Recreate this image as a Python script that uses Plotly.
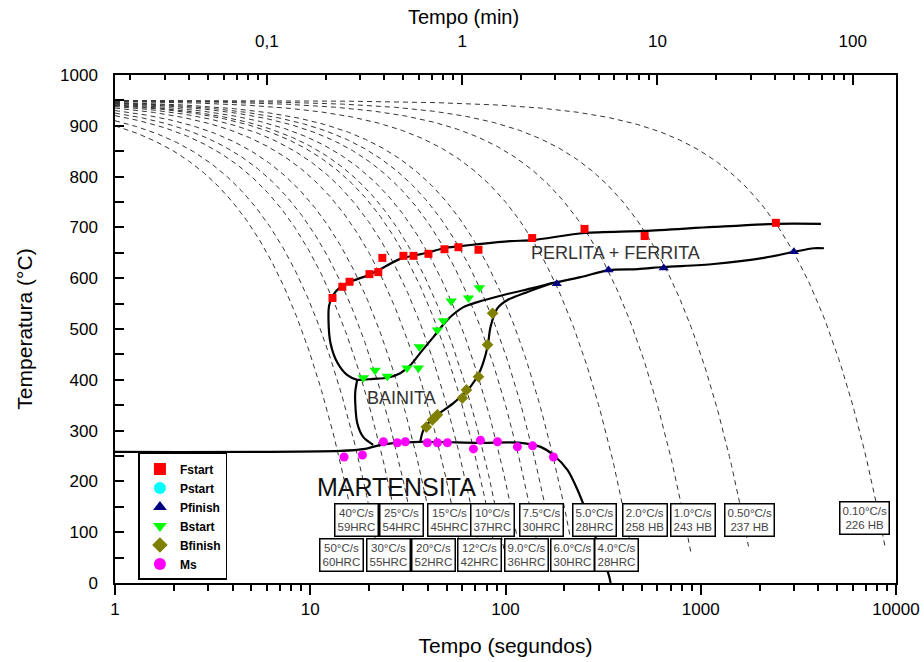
import numpy as np
import plotly.graph_objects as go

# ---------------- data ----------------
# cooling curves (labelled cooling rates, °C/s) starting from the austenitising temperature
cool_rates = [50, 40, 30, 25, 20, 15, 12, 10, 9.0, 7.5, 6.0, 5.0, 4.0, 2.0, 1.0, 0.50, 0.10]
cool_start_T = 950
cool_end_T = [50, 50, 50, 50, 50, 50, 50, 50, 50, 50, 50, 50, 50, 50, 55, 72, 72]

# experimental points (time in s, temperature in °C)
fstart_t = [13.0, 14.6, 15.9, 20.1, 22.3, 23.4, 30.0, 33.8, 40.3, 48.7, 57.4, 72.7, 137, 254, 516, 2425]
fstart_T = [561, 583, 593, 608, 612, 640, 644, 644, 648, 657, 661, 656, 679, 697, 683, 709]
pstart_t = []
pstart_T = []
pfinish_t = [183, 337, 646, 3000]
pfinish_T = [589, 616, 620, 652]
bstart_t = [18.7, 21.5, 24.8, 31.3, 35.8, 36.2, 44.8, 48.1, 52.7, 64.6, 73.5]
bstart_T = [404, 419, 407, 423, 423, 465, 498, 516, 555, 561, 581]
bfinish_t = [39.3, 42.2, 44.8, 60.1, 63.1, 72.7, 80.9, 85.9]
bfinish_T = [307, 321, 331, 364, 380, 406, 469, 531]
ms_t = [14.9, 18.5, 23.7, 27.9, 30.7, 39.8, 44.8, 50.4, 68.5, 74.4, 91.0, 115, 137.6, 176]
ms_T = [248, 252, 278, 276, 278, 276, 276, 276, 264, 281, 278, 268, 270, 248]

# transformation boundaries (solid black lines)
ferr_bain_t = [4125, 2425, 1166, 516, 254, 138, 106, 72.7, 58.8, 48.1, 39.8, 28.9, 22.9, 19.8, 16.0,
               14.3, 13.1, 12.5, 12.4, 12.7, 13.8, 15.5, 17.4, 21.0, 24.8, 28.9, 32.6, 36.6, 42.7,
               50.4, 60.9, 71.8, 97.7, 139, 176, 242, 338, 475, 646, 1166, 2104, 3000, 3798, 4274]
ferr_bain_T = [707, 707, 701, 693, 689, 675, 673, 667, 663, 659, 650, 638, 618, 606, 593,
               583, 567, 547, 518, 472, 433, 409, 400, 402, 404, 413, 429, 453, 484,
               518, 543, 553, 567, 581, 591, 602, 616, 618, 622, 628, 640, 652, 659, 659]
bfin_line_t = [36.6, 38.0, 42.7, 54.1, 66.1, 74.4, 80.9, 83.8, 91.0, 102.4, 129.7, 176]
bfin_line_T = [278, 301, 325, 354, 386, 419, 465, 504, 541, 557, 573, 591]
bain_mart_t = [17.4, 17.0, 17.0, 17.4, 18.7, 21.0]
bain_mart_T = [400, 376, 354, 315, 287, 272]
ms_line_t = [1, 14.3, 19.1, 22.9, 27.3, 36.6, 74.4, 119.4, 151.2, 176, 208, 234, 257, 296, 338, 345.6]
ms_line_T = [258, 260, 264, 272, 276, 278, 276, 276, 268, 252, 222, 183, 144, 79, 16, 0]

# label boxes: (rate text, hardness text)
top_labels = [("40°C/s", "59HRC"), ("25°C/s", "54HRC"), ("15°C/s", "45HRC"), ("10°C/s", "37HRC"),
              ("7.5°C/s", "30HRC"), ("5.0°C/s", "28HRC"), ("2.0°C/s", "258 HB"), ("1.0°C/s", "243 HB"),
              ("0.50°C/s", "237 HB"), ("0.10°C/s", "226 HB")]
bottom_labels = [("50°C/s", "60HRC"), ("30°C/s", "55HRC"), ("20°C/s", "52HRC"), ("12°C/s", "42HRC"),
                 ("9.0°C/s", "36HRC"), ("6.0°C/s", "30HRC"), ("4.0°C/s", "28HRC")]

x_tick_vals = [1, 10, 100, 1000, 10000]
x_tick_text = ["1", "10", "100", "1000", "10000"]
min_tick_vals = [0.1, 1, 10, 100]
min_tick_text = ["0,1", "1", "10", "100"]
y_tick_vals = [0, 100, 200, 300, 400, 500, 600, 700, 800, 900, 1000]

# ---------------- layout helpers (positions) ----------------
top_label_x = [17.2, 29.3, 51.6, 85.8, 153, 286, 516, 910, 1784, 6935]
top_label_y = [124, 124, 124, 124, 124, 124, 124, 124, 124, 128]
bottom_label_x = [14.4, 25.1, 42.7, 73.6, 128, 221, 371]
bottom_label_y = 55

FONT = "Liberation Sans, Arial, Helvetica, sans-serif"

fig = go.Figure()

# cooling curves
for r, tend in zip(cool_rates, cool_end_T):
    t_last = (cool_start_T - tend) / r
    tt = np.logspace(0, np.log10(t_last), 300)
    TT = cool_start_T - r * tt
    fig.add_trace(go.Scatter(x=tt, y=TT, mode="lines", showlegend=False, hoverinfo="skip",
                             line=dict(color="#333333", width=1, dash="5px,4px")))

# boundary lines
for xs, ys in [(ferr_bain_t, ferr_bain_T), (bfin_line_t, bfin_line_T),
               (bain_mart_t, bain_mart_T), (ms_line_t, ms_line_T)]:
    fig.add_trace(go.Scatter(x=xs, y=ys, mode="lines", showlegend=False, hoverinfo="skip",
                             line=dict(color="black", width=2.2, shape="spline", smoothing=0.8)))

# markers
series = [
    ("Fstart", fstart_t, fstart_T, "square", "#ff0000", 8),
    ("Pstart", pstart_t, pstart_T, "circle", "#00ffff", 9),
    ("Pfinish", pfinish_t, pfinish_T, "triangle-up", "#000080", 9),
    ("Bstart", bstart_t, bstart_T, "triangle-down", "#00ff00", 10),
    ("Bfinish", bfinish_t, bfinish_T, "diamond", "#808000", 9),
    ("Ms", ms_t, ms_T, "circle", "#ff00ff", 9),
]
for name, xs, ys, sym, col, size in series:
    if len(xs) == 0:
        xs, ys = [None], [None]
    fig.add_trace(go.Scatter(x=xs, y=ys, mode="markers", name=name,
                             marker=dict(symbol=sym, color=col, size=size, line=dict(width=0))))

# invisible trace for the top (minutes) axis
fig.add_trace(go.Scatter(x=[1], y=[None], xaxis="x2", mode="markers", showlegend=False,
                         hoverinfo="skip"))

annotations = []
def box(x, y, l1, l2):
    annotations.append(dict(x=np.log10(x), y=y, xref="x", yref="y", showarrow=False,
                            text=f"{l1}<br>{l2}", font=dict(family=FONT, size=11.5, color="#444"),
                            bgcolor="white", bordercolor="black", borderwidth=1.5, borderpad=2,
                            align="center"))

for (l1, l2), x, y in zip(top_labels, top_label_x, top_label_y):
    box(x, y, l1, l2)
for (l1, l2), x in zip(bottom_labels, bottom_label_x):
    box(x, bottom_label_y, l1, l2)

annotations.append(dict(x=np.log10(365), y=650, showarrow=False, text="PERLITA + FERRITA",
                        font=dict(family=FONT, size=18, color="#333")))
annotations.append(dict(x=np.log10(29.3), y=364, showarrow=False, text="BAINITA",
                        font=dict(family=FONT, size=18, color="#333")))
annotations.append(dict(x=np.log10(27.6), y=189, showarrow=False, text="MARTENSITA",
                        font=dict(family=FONT, size=25, color="#111")))
# top axis title
annotations.append(dict(x=0.446, y=1.114, xref="paper", yref="paper", xanchor="center",
                        yanchor="middle", showarrow=False,
                        text="Tempo (min)", font=dict(family=FONT, size=20, color="black")))

axis_common = dict(showgrid=False, zeroline=False, showline=True, linecolor="black", linewidth=1.5,
                   tickcolor="black", tickwidth=1.5, automargin=False)

minor_sec = []
for dec in [1, 10, 100, 1000]:
    minor_sec += [dec * k for k in range(2, 10)]
minor_min = []
for dec in [0.01, 0.1, 1, 10, 100]:
    minor_min += [dec * k for k in range(2, 10)]

fig.update_layout(
    width=924, height=662,
    margin=dict(l=115, r=28, t=75, b=79),
    paper_bgcolor="white", plot_bgcolor="white",
    font=dict(family=FONT, color="black"),
    xaxis=dict(type="log", range=[0, 4], tickmode="array", tickvals=x_tick_vals, ticktext=x_tick_text,
               ticks="outside", ticklen=10, tickfont=dict(size=17), mirror=False,
               minor=dict(tickmode="array", tickvals=minor_sec, ticks="outside", ticklen=6,
                          tickwidth=1.5, tickcolor="black", showgrid=False),
               title=dict(text="Tempo (segundos)", font=dict(size=21), standoff=20),
               **axis_common),
    xaxis2=dict(type="log", overlaying="x", side="top", range=[np.log10(1 / 60), np.log10(10000 / 60)],
                tickmode="array", tickvals=min_tick_vals, ticktext=min_tick_text,
                ticks="inside", ticklen=10, tickfont=dict(size=17), ticklabelstandoff=19,
                minor=dict(tickmode="array", tickvals=minor_min, ticks="inside", ticklen=5,
                           tickwidth=1.5, tickcolor="black", showgrid=False),
                **axis_common),
    yaxis=dict(range=[0, 1000], tickmode="array", tickvals=y_tick_vals, ticks="inside", ticklen=9,
               tickfont=dict(size=17), ticklabelstandoff=12, mirror=True,
               minor=dict(tickmode="array", tickvals=[50 + 100 * k for k in range(10)], ticks="inside",
                          ticklen=9, tickwidth=1.5, tickcolor="black", showgrid=False),
               title=dict(text="Temperatura (°C)", font=dict(size=21), standoff=22),
               **axis_common),
    legend=dict(x=0.03, y=0.256, xanchor="left", yanchor="top", bgcolor="white",
                bordercolor="black", borderwidth=1.5,
                font=dict(family=FONT, size=12, color="black", weight="bold"),
                itemsizing="constant", tracegroupgap=0),
    annotations=annotations,
    showlegend=True,
)

fig.write_html("out.html")
